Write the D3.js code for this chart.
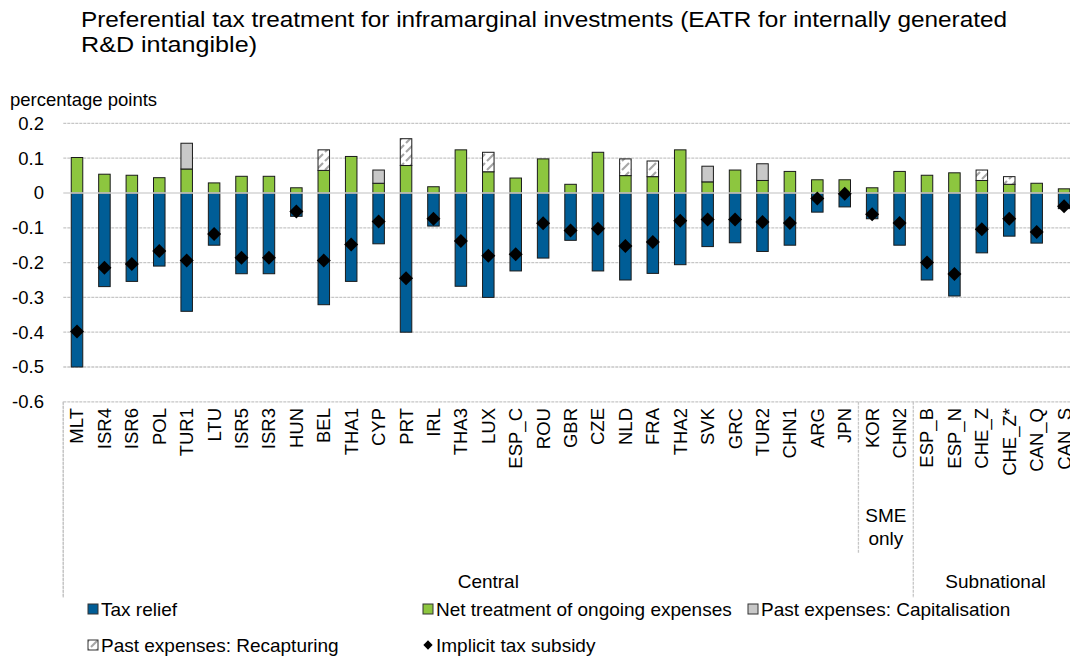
<!DOCTYPE html>
<html>
<head>
<meta charset="utf-8">
<script src="https://cdn.jsdelivr.net/npm/d3@7"></script>
<style>
  body { margin: 0; background: #fff; }
  svg { font-family: 'Liberation Sans', Arial, sans-serif; }
</style>
</head>
<body>
<svg id="chart" width="1070" height="661"></svg>
<script>
const categories = ['MLT', 'ISR4', 'ISR6', 'POL', 'TUR1', 'LTU', 'ISR5', 'ISR3', 'HUN', 'BEL',
  'THA1', 'CYP', 'PRT', 'IRL', 'THA3', 'LUX', 'ESP_C', 'ROU', 'GBR', 'CZE', 'NLD', 'FRA',
  'THA2', 'SVK', 'GRC', 'TUR2', 'CHN1', 'ARG', 'JPN', 'KOR', 'CHN2', 'ESP_B', 'ESP_N',
  'CHE_Z', 'CHE_Z*', 'CAN_Q', 'CAN_S']

const taxRelief = [-0.5, -0.269, -0.254, -0.21, -0.34, -0.15, -0.232, -0.232, -0.067, -0.321,
  -0.254, -0.146, -0.4, -0.095, -0.268, -0.3, -0.224, -0.187, -0.136, -0.224, -0.25, -0.231,
  -0.206, -0.154, -0.143, -0.168, -0.15, -0.055, -0.04, -0.074, -0.15, -0.25, -0.296,
  -0.172, -0.124, -0.144, -0.045]

const netTreatment = [0.102, 0.054, 0.051, 0.044, 0.069, 0.029, 0.048, 0.048, 0.015, 0.065,
  0.105, 0.028, 0.079, 0.018, 0.124, 0.061, 0.043, 0.098, 0.025, 0.117, 0.05, 0.047,
  0.124, 0.032, 0.066, 0.036, 0.062, 0.038, 0.038, 0.015, 0.062, 0.051, 0.058,
  0.036, 0.025, 0.028, 0.012]

const capitalisation = [0, 0, 0, 0, 0.074, 0, 0, 0, 0, 0,
  0, 0.038, 0, 0, 0, 0, 0, 0, 0, 0, 0, 0,
  0, 0.045, 0, 0.048, 0, 0, 0, 0, 0, 0, 0,
  0, 0, 0, 0]

const recapturing = [0, 0, 0, 0, 0, 0, 0, 0, 0, 0.059,
  0, 0, 0.077, 0, 0, 0.056, 0, 0, 0, 0, 0.048, 0.045,
  0, 0, 0, 0, 0, 0, 0, 0, 0, 0, 0,
  0.03, 0.022, 0, 0]

const implicitSubsidy = [-0.398, -0.215, -0.204, -0.167, -0.194, -0.118, -0.186, -0.186, -0.053, -0.194,
  -0.148, -0.082, -0.245, -0.074, -0.138, -0.18, -0.176, -0.087, -0.108, -0.103, -0.152, -0.141,
  -0.08, -0.076, -0.076, -0.083, -0.086, -0.016, -0.002, -0.061, -0.086, -0.2, -0.233,
  -0.104, -0.074, -0.112, -0.038]

const yTicks = [0.2, 0.1, 0, -0.1, -0.2, -0.3, -0.4, -0.5, -0.6]

// group label: first and last category index
const groups = [
  { label: ['Central'], from: 0, to: 30, bottom: 598, textY: 588 },
  { label: ['SME', 'only'], from: 29, to: 30, bottom: 553, textY: 522 },
  { label: ['Subnational'], from: 31, to: 36, bottom: 598, textY: 588 }
]

const blue = '#005d96'
const green = '#8dc63f'
const grey = '#c8c8c8'
const gridColor = '#c6c6c6'

const svg = d3.select('#chart')

const defs = svg.append('defs')
const hatch = defs.append('pattern')
  .attr('id', 'hatch')
  .attr('patternUnits', 'userSpaceOnUse')
  .attr('width', 9)
  .attr('height', 9)
hatch.append('rect').attr('width', 9).attr('height', 9).attr('fill', '#fff')
hatch.append('path')
  .attr('d', 'M1,8 L8,1')
  .attr('stroke', '#a6a6a6')
  .attr('stroke-width', 2.2)

const x = d3.scaleBand()
  .domain(categories)
  .range([63.3, 1077.8])
  .paddingInner(0.58)
  .paddingOuter(0.29)

const y = d3.scaleLinear()
  .domain([-0.6, 0.2])
  .range([401.8, 123.4])

// title
const title = svg.append('text')
  .attr('font-size', 22)
  .attr('fill', '#000')
title.append('tspan')
  .attr('x', 81)
  .attr('y', 27)
  .attr('textLength', 926)
  .attr('lengthAdjust', 'spacingAndGlyphs')
  .text('Preferential tax treatment for inframarginal investments (EATR for internally generated')
title.append('tspan')
  .attr('x', 81)
  .attr('y', 52)
  .attr('textLength', 176)
  .attr('lengthAdjust', 'spacingAndGlyphs')
  .text('R&D intangible)')

svg.append('text')
  .attr('x', 10)
  .attr('y', 106)
  .attr('font-size', 18.5)
  .text('percentage points')

// gridlines
svg.append('g')
  .selectAll('line')
  .data(yTicks.filter((d) => d !== 0))
  .enter()
  .append('line')
  .attr('x1', 63.3)
  .attr('x2', 1078)
  .attr('y1', (d) => y(d))
  .attr('y2', (d) => y(d))
  .attr('stroke', gridColor)
  .attr('stroke-width', 1.3)
  .attr('stroke-dasharray', '3,1')

// y tick labels
svg.append('g')
  .selectAll('text')
  .data(yTicks)
  .enter()
  .append('text')
  .attr('x', 44)
  .attr('y', (d) => y(d))
  .attr('dy', '0.35em')
  .attr('text-anchor', 'end')
  .attr('font-size', 18.5)
  .text((d) => d3.format('')(d).replace('−', '-'))

// bars
const bars = svg.append('g')
const bw = x.bandwidth()

bars.selectAll('.relief')
  .data(categories)
  .enter()
  .append('rect')
  .attr('class', 'relief')
  .attr('x', (d) => x(d))
  .attr('width', bw)
  .attr('y', y(0))
  .attr('height', (d, i) => y(taxRelief[i]) - y(0))
  .attr('fill', blue)
  .attr('stroke', '#1a1a1a')
  .attr('stroke-width', 1)

bars.selectAll('.net')
  .data(categories)
  .enter()
  .append('rect')
  .attr('class', 'net')
  .attr('x', (d) => x(d))
  .attr('width', bw)
  .attr('y', (d, i) => y(netTreatment[i]))
  .attr('height', (d, i) => y(0) - y(netTreatment[i]))
  .attr('fill', green)
  .attr('stroke', '#1a1a1a')
  .attr('stroke-width', 1)

bars.selectAll('.capital')
  .data(categories.filter((d, i) => capitalisation[i] > 0))
  .enter()
  .append('rect')
  .attr('class', 'capital')
  .attr('x', (d) => x(d))
  .attr('width', bw)
  .attr('y', (d) => {
    const i = categories.indexOf(d)
    return y(netTreatment[i] + capitalisation[i])
  })
  .attr('height', (d) => {
    const i = categories.indexOf(d)
    return y(netTreatment[i]) - y(netTreatment[i] + capitalisation[i])
  })
  .attr('fill', grey)
  .attr('stroke', '#1a1a1a')
  .attr('stroke-width', 1)

bars.selectAll('.recap')
  .data(categories.filter((d, i) => recapturing[i] > 0))
  .enter()
  .append('rect')
  .attr('class', 'recap')
  .attr('x', (d) => x(d))
  .attr('width', bw)
  .attr('y', (d) => {
    const i = categories.indexOf(d)
    return y(netTreatment[i] + recapturing[i])
  })
  .attr('height', (d) => {
    const i = categories.indexOf(d)
    return y(netTreatment[i]) - y(netTreatment[i] + recapturing[i])
  })
  .attr('fill', 'url(#hatch)')
  .attr('stroke', '#1a1a1a')
  .attr('stroke-width', 1)

// zero line drawn over the bars
svg.append('line')
  .attr('x1', 63.3)
  .attr('x2', 1078)
  .attr('y1', y(0))
  .attr('y2', y(0))
  .attr('stroke', '#d4d4d4')
  .attr('stroke-width', 1.5)

// implicit tax subsidy markers
const diamond = d3.symbol().type(d3.symbolDiamond2).size(125)
svg.append('g')
  .selectAll('path')
  .data(categories)
  .enter()
  .append('path')
  .attr('d', diamond)
  .attr('transform', (d, i) => `translate(${x(d) + bw / 2},${y(implicitSubsidy[i])})`)
  .attr('fill', '#000')

// category labels
svg.append('g')
  .selectAll('text')
  .data(categories)
  .enter()
  .append('text')
  .attr('transform', (d) => `translate(${x(d) + bw / 2},408) rotate(-90)`)
  .attr('dy', '0.35em')
  .attr('text-anchor', 'end')
  .attr('font-size', 18.5)
  .text((d) => d)

// group separators and labels
const sep = svg.append('g')
  .attr('stroke', gridColor)
  .attr('stroke-width', 1.3)
  .attr('stroke-dasharray', '3,1')
const step = x.step()
const x0 = x.range()[0]
sep.append('line').attr('x1', x0).attr('x2', x0).attr('y1', y(-0.6)).attr('y2', 598)
groups.forEach((g) => {
  const xl = x0 + g.from * step
  sep.append('line').attr('x1', xl).attr('x2', xl).attr('y1', y(-0.6)).attr('y2', g.bottom)
  const cx = x0 + (g.from + g.to + 1) / 2 * step
  const t = svg.append('text')
    .attr('x', cx)
    .attr('y', g.textY)
    .attr('text-anchor', 'middle')
    .attr('font-size', 19)
  g.label.forEach((s, k) => {
    t.append('tspan').attr('x', cx).attr('dy', k === 0 ? 0 : 23).text(s)
  })
})

// legend
const legendItems = [
  { label: 'Tax relief', fill: blue, x: 88, y: 609 },
  { label: 'Net treatment of ongoing expenses', fill: green, x: 423, y: 609 },
  { label: 'Past expenses: Capitalisation', fill: grey, x: 748, y: 609 },
  { label: 'Past expenses: Recapturing', fill: 'url(#hatch)', x: 88, y: 645 },
  { label: 'Implicit tax subsidy', fill: null, x: 423, y: 645 }
]
const legend = svg.append('g')
legendItems.forEach((d) => {
  if (d.fill) {
    legend.append('rect')
      .attr('x', d.x)
      .attr('y', d.y - 5)
      .attr('width', 10)
      .attr('height', 10)
      .attr('fill', d.fill)
      .attr('stroke', '#333')
      .attr('stroke-width', 1)
  } else {
    legend.append('path')
      .attr('d', d3.symbol().type(d3.symbolDiamond2).size(55))
      .attr('transform', `translate(${d.x + 5},${d.y})`)
      .attr('fill', '#000')
  }
  legend.append('text')
    .attr('x', d.x + 13)
    .attr('y', d.y)
    .attr('dy', '0.35em')
    .attr('font-size', 19)
    .text(d.label)
})
</script>
</body>
</html>
